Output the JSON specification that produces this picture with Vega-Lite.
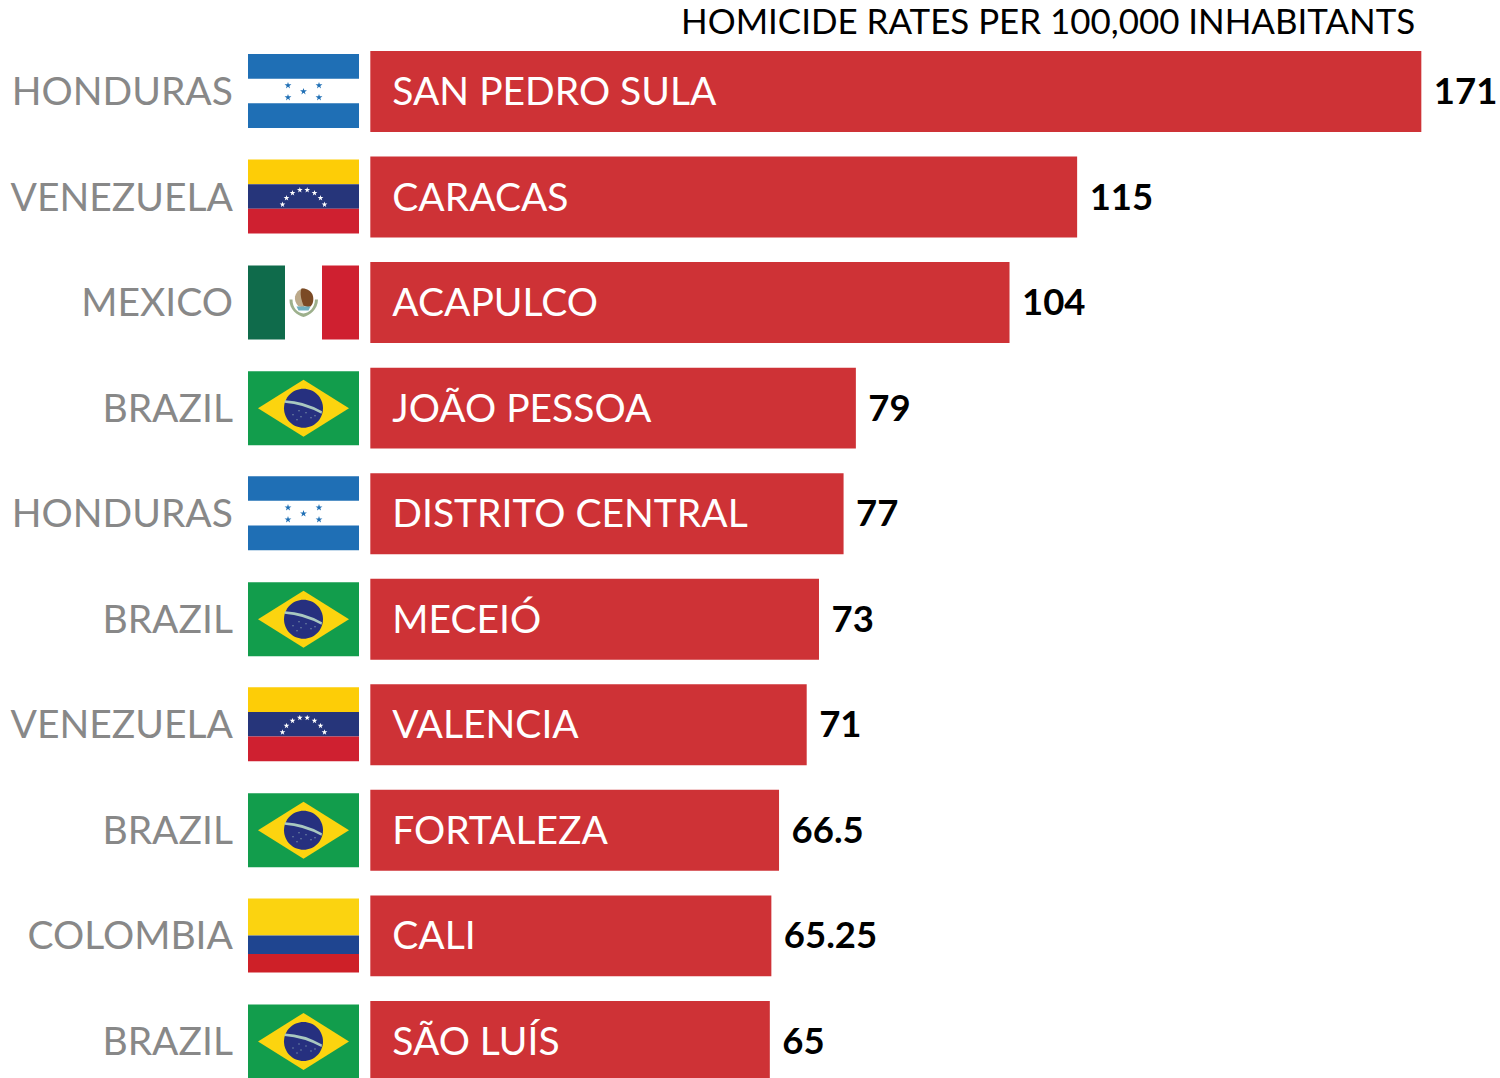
{"$schema":"https://vega.github.io/schema/vega-lite/v6.json","width":1500,"height":1078,"autosize":{"type":"fit","contains":"padding"},"padding":0,"background":"white","config":{"view":{"stroke":null},"font":"Lato"},
"datasets":{"cities":[{"country":"HONDURAS","city":"SAN PEDRO SULA","rate":171},{"country":"VENEZUELA","city":"CARACAS","rate":115},{"country":"MEXICO","city":"ACAPULCO","rate":104},{"country":"BRAZIL","city":"JOÃO PESSOA","rate":79},{"country":"HONDURAS","city":"DISTRITO CENTRAL","rate":77},{"country":"BRAZIL","city":"MECEIÓ","rate":73},{"country":"VENEZUELA","city":"VALENCIA","rate":71},{"country":"BRAZIL","city":"FORTALEZA","rate":66.5},{"country":"COLOMBIA","city":"CALI","rate":65.25},{"country":"BRAZIL","city":"SÃO LUÍS","rate":65}],
"stripes":[{"city":"SAN PEDRO SULA","stripe":1,"hue":"hn"},{"city":"SAN PEDRO SULA","stripe":3,"hue":"hn"},{"city":"DISTRITO CENTRAL","stripe":1,"hue":"hn"},{"city":"DISTRITO CENTRAL","stripe":3,"hue":"hn"},{"city":"CARACAS","stripe":1,"hue":"ve-y"},{"city":"CARACAS","stripe":2,"hue":"ve-b"},{"city":"CARACAS","stripe":3,"hue":"ve-r"},{"city":"VALENCIA","stripe":1,"hue":"ve-y"},{"city":"VALENCIA","stripe":2,"hue":"ve-b"},{"city":"VALENCIA","stripe":3,"hue":"ve-r"}],
"colombia":[{"city":"CALI","stripe":1,"hue":"co-y"},{"city":"CALI","stripe":2,"hue":"co-y"},{"city":"CALI","stripe":3,"hue":"co-b"},{"city":"CALI","stripe":4,"hue":"co-r"}],
"title":[{"city":"SAN PEDRO SULA","label":"HOMICIDE RATES PER 100,000 INHABITANTS"}]},
"layer":[
{"data":{"name":"cities"},"mark":{"type":"bar","color":"#CE3236"},"encoding":{"x":{"field":"rate","type":"quantitative","axis":null,"scale":{"domain":[-60.25,183.8],"range":[0,1500],"nice":false,"zero":false}},"y":{"field":"city","type":"nominal","axis":null,"sort":null,"scale":{"domain":["SAN PEDRO SULA","CARACAS","ACAPULCO","JOÃO PESSOA","DISTRITO CENTRAL","MECEIÓ","VALENCIA","FORTALEZA","CALI","SÃO LUÍS"],"range":[38.7,1094.2],"paddingInner":0.2326,"paddingOuter":0.1163}}}},
{"data":{"name":"stripes"},"mark":{"type":"bar"},"encoding":{"x":{"datum":-19.9},"x2":{"datum":-1.84},"y":{"field":"city","type":"nominal","axis":null},"yOffset":{"field":"stripe","type":"nominal","scale":{"domain":[1,2,3],"range":[3,77],"paddingInner":0,"paddingOuter":0}},"color":{"field":"hue","type":"nominal","legend":null,"scale":{"domain":["hn","ve-y","ve-b","ve-r","co-y","co-b","co-r"],"range":["#1F6FB5","#FDCD07","#26357A","#CF2030","#FBD310","#1F4590","#CE2028"]}}}},
{"data":{"name":"colombia"},"mark":{"type":"bar"},"encoding":{"x":{"datum":-19.9},"x2":{"datum":-1.84},"y":{"field":"city","type":"nominal","axis":null},"yOffset":{"field":"stripe","type":"nominal","scale":{"domain":[1,2,3,4],"range":[3,77],"paddingInner":0,"paddingOuter":0}},"color":{"field":"hue","type":"nominal","legend":null}}},
{"data":{"name":"cities"},"transform":[{"filter":"datum.country==='BRAZIL'"}],"mark":{"type":"point","filled":true,"opacity":1,"size":4,"strokeWidth":0,"color":"#129D4C","shape":"M-55.5,-37L55.5,-37L55.5,37L-55.5,37Z"},"encoding":{"x":{"datum":-10.87},"y":{"field":"city","type":"nominal","axis":null}}},
{"data":{"name":"cities"},"transform":[{"filter":"datum.country==='BRAZIL'"}],"mark":{"type":"point","filled":true,"opacity":1,"size":4,"strokeWidth":0,"color":"#FCD40F","shape":"M-45.5,0L0,-28.5L45.5,0L0,28.5Z"},"encoding":{"x":{"datum":-10.87},"y":{"field":"city","type":"nominal","axis":null}}},
{"data":{"name":"cities"},"transform":[{"filter":"datum.country==='BRAZIL'"}],"mark":{"type":"point","filled":true,"opacity":1,"size":4,"strokeWidth":0,"color":"#26307F","shape":"M-19.5,0A19.5,19.5,0,1,1,19.5,0A19.5,19.5,0,1,1,-19.5,0Z"},"encoding":{"x":{"datum":-10.87},"y":{"field":"city","type":"nominal","axis":null}}},
{"data":{"name":"cities"},"transform":[{"filter":"datum.country==='BRAZIL'"}],"mark":{"type":"point","filled":true,"opacity":1,"size":4,"strokeWidth":0,"color":"#A9C8C0","shape":"M-18.5,-8Q0,-7.5,18.5,3L18,5.5Q0,-4,-19,-5.5ZM-11,6L-10,6L-10,7L-11,7ZM-5,2L-4,2L-4,3L-5,3ZM-3,8L-2,8L-2,9L-3,9ZM2,4L3,4L3,5L2,5ZM7,9L8,9L8,10L7,10ZM11,7L12,7L12,8L11,8ZM-7,11L-6,11L-6,12L-7,12Z"},"encoding":{"x":{"datum":-10.87},"y":{"field":"city","type":"nominal","axis":null}}},
{"data":{"name":"cities"},"transform":[{"filter":"datum.country==='MEXICO'"}],"mark":{"type":"point","filled":true,"opacity":1,"size":4,"strokeWidth":0,"color":"#0F6B4B","shape":"M-55.5,-37L-18.5,-37L-18.5,37L-55.5,37Z"},"encoding":{"x":{"datum":-10.87},"y":{"field":"city","type":"nominal","axis":null}}},
{"data":{"name":"cities"},"transform":[{"filter":"datum.country==='MEXICO'"}],"mark":{"type":"point","filled":true,"opacity":1,"size":4,"strokeWidth":0,"color":"#CF2030","shape":"M18.5,-37L55.5,-37L55.5,37L18.5,37Z"},"encoding":{"x":{"datum":-10.87},"y":{"field":"city","type":"nominal","axis":null}}},
{"data":{"name":"cities"},"transform":[{"filter":"datum.country==='MEXICO'"}],"mark":{"type":"point","filled":true,"opacity":1,"size":4,"strokeWidth":0,"color":"#9DB08C","shape":"M-14,-3C-14.5,7,-6,13,0,14.5C6,13,14.5,7,14.5,-3L11.5,-3C11,6,6,10,0,11C-6,10,-11,6,-11,-3Z"},"encoding":{"x":{"datum":-10.87},"y":{"field":"city","type":"nominal","axis":null}}},
{"data":{"name":"cities"},"transform":[{"filter":"datum.country==='MEXICO'"}],"mark":{"type":"point","filled":true,"opacity":1,"size":4,"strokeWidth":0,"color":"#BCA98A","shape":"M-8.5,-6C-7,-12,-2,-14,0,-14L1,5L-5,4C-8,1,-9,-3,-8.5,-6Z"},"encoding":{"x":{"datum":-10.87},"y":{"field":"city","type":"nominal","axis":null}}},
{"data":{"name":"cities"},"transform":[{"filter":"datum.country==='MEXICO'"}],"mark":{"type":"point","filled":true,"opacity":1,"size":4,"strokeWidth":0,"color":"#7B4A25","shape":"M-2,-14C3,-14.5,7,-12,9,-8C10.5,-4,10,1,7,4C4,5,2,4,0,3C-2,-2,-4,-9,-2,-14Z"},"encoding":{"x":{"datum":-10.87},"y":{"field":"city","type":"nominal","axis":null}}},
{"data":{"name":"cities"},"transform":[{"filter":"datum.country==='MEXICO'"}],"mark":{"type":"point","filled":true,"opacity":1,"size":4,"strokeWidth":0,"color":"#6FB0C0","shape":"M-7,4L7,4L5,8L-5,8Z"},"encoding":{"x":{"datum":-10.87},"y":{"field":"city","type":"nominal","axis":null}}},
{"data":{"name":"cities"},"transform":[{"filter":"datum.country==='HONDURAS'"}],"mark":{"type":"point","filled":true,"opacity":1,"size":4,"strokeWidth":0,"color":"#1F6FB5","shape":"M-15.5,-9.6l0.8,2.48,2.62,0,-2.11,1.54,0.8,2.5,-2.11,-1.54,-2.11,1.54,0.8,-2.5,-2.11,-1.54,2.62,0zM15.5,-9.6l0.8,2.48,2.62,0,-2.11,1.54,0.8,2.5,-2.11,-1.54,-2.11,1.54,0.8,-2.5,-2.11,-1.54,2.62,0zM0,-3.6l0.8,2.48,2.62,0,-2.11,1.54,0.8,2.5,-2.11,-1.54,-2.11,1.54,0.8,-2.5,-2.11,-1.54,2.62,0zM-15.5,2.4l0.8,2.48,2.62,0,-2.11,1.54,0.8,2.5,-2.11,-1.54,-2.11,1.54,0.8,-2.5,-2.11,-1.54,2.62,0zM15.5,2.4l0.8,2.48,2.62,0,-2.11,1.54,0.8,2.5,-2.11,-1.54,-2.11,1.54,0.8,-2.5,-2.11,-1.54,2.62,0z"},"encoding":{"x":{"datum":-10.87},"y":{"field":"city","type":"nominal","axis":null}}},
{"data":{"name":"cities"},"transform":[{"filter":"datum.country==='VENEZUELA'"}],"mark":{"type":"point","filled":true,"opacity":1,"size":4,"strokeWidth":0,"color":"#FFFFFF","shape":"M-21,4.5l0.67,2.07,2.18,0,-1.76,1.28,0.67,2.08,-1.76,-1.28,-1.76,1.28,0.67,-2.08,-1.76,-1.28,2.18,0zM-17,-2l0.67,2.07,2.18,0,-1.76,1.28,0.67,2.08,-1.76,-1.28,-1.76,1.28,0.67,-2.08,-1.76,-1.28,2.18,0zM-11,-7l0.67,2.07,2.18,0,-1.76,1.28,0.67,2.08,-1.76,-1.28,-1.76,1.28,0.67,-2.08,-1.76,-1.28,2.18,0zM-3.7,-10l0.67,2.07,2.18,0,-1.76,1.28,0.67,2.08,-1.76,-1.28,-1.76,1.28,0.67,-2.08,-1.76,-1.28,2.18,0zM3.7,-10l0.67,2.07,2.18,0,-1.76,1.28,0.67,2.08,-1.76,-1.28,-1.76,1.28,0.67,-2.08,-1.76,-1.28,2.18,0zM11,-7l0.67,2.07,2.18,0,-1.76,1.28,0.67,2.08,-1.76,-1.28,-1.76,1.28,0.67,-2.08,-1.76,-1.28,2.18,0zM17,-2l0.67,2.07,2.18,0,-1.76,1.28,0.67,2.08,-1.76,-1.28,-1.76,1.28,0.67,-2.08,-1.76,-1.28,2.18,0zM21,4.5l0.67,2.07,2.18,0,-1.76,1.28,0.67,2.08,-1.76,-1.28,-1.76,1.28,0.67,-2.08,-1.76,-1.28,2.18,0z"},"encoding":{"x":{"datum":-10.87},"y":{"field":"city","type":"nominal","axis":null}}},
{"data":{"name":"cities"},"mark":{"type":"text","align":"right","baseline":"middle","font":"Lato","fontSize":39,"color":"#888888","dy":1.5},"encoding":{"x":{"datum":-22.35},"y":{"field":"city","type":"nominal","axis":null},"text":{"field":"country"}}},
{"data":{"name":"cities"},"mark":{"type":"text","align":"left","baseline":"middle","font":"Lato","fontSize":39,"color":"#FFFFFF","dx":22,"dy":1.5},"encoding":{"x":{"datum":0},"y":{"field":"city","type":"nominal","axis":null},"text":{"field":"city"}}},
{"data":{"name":"cities"},"mark":{"type":"text","align":"left","baseline":"middle","font":"Lato","fontWeight":"bold","fontSize":36.5,"color":"#000000","dx":12.5,"dy":1.5},"encoding":{"x":{"field":"rate","type":"quantitative"},"y":{"field":"city","type":"nominal","axis":null},"text":{"field":"rate"}}},
{"data":{"name":"title"},"mark":{"type":"text","align":"right","baseline":"middle","font":"Lato","fontSize":34.9,"color":"#000000","dy":-67.5},"encoding":{"x":{"datum":170},"y":{"field":"city","type":"nominal","axis":null},"text":{"field":"label"}}}
],"resolve":{"scale":{"yOffset":"independent"}}}
